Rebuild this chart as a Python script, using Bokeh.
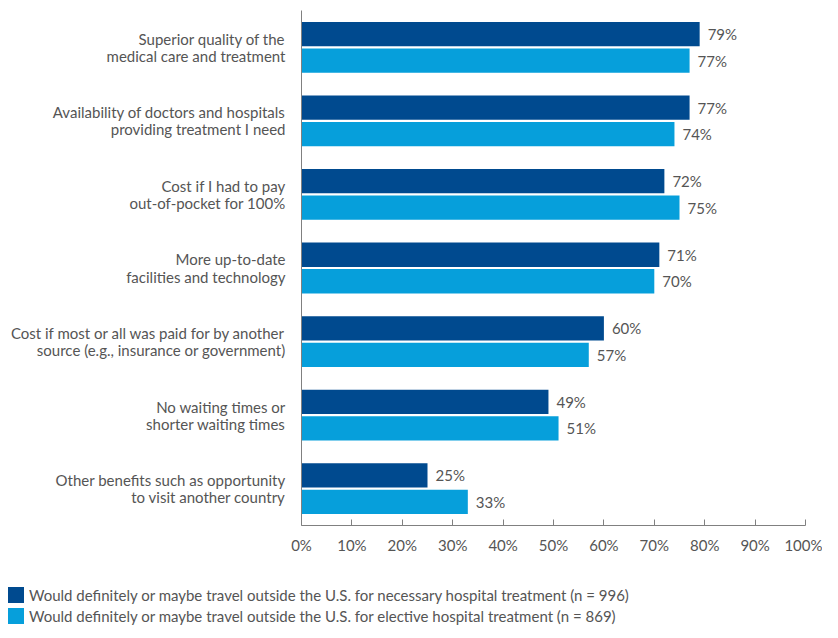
from bokeh.plotting import figure
from bokeh.models import ColumnDataSource, FactorRange, Range1d, FixedTicker, PrintfTickFormatter, Div
from bokeh.layouts import column
from bokeh.transform import dodge
from bokeh.core.properties import value
from bokeh.embed import file_html
from bokeh.resources import INLINE

categories = [
    "Superior quality of the\nmedical care and treatment",
    "Availability of doctors and hospitals\nproviding treatment I need",
    "Cost if I had to pay\nout-of-pocket for 100%",
    "More up-to-date\nfacilities and technology",
    "Cost if most or all was paid for by another\nsource (e.g., insurance or government)",
    "No waiting times or\nshorter waiting times",
    "Other benefits such as opportunity\nto visit another country",
]
necessary = [79, 77, 72, 71, 60, 49, 25]
elective = [77, 74, 75, 70, 57, 51, 33]
series_names = [
    "Would definitely or maybe travel outside the U.S. for necessary hospital treatment (n = 996)",
    "Would definitely or maybe travel outside the U.S. for elective hospital treatment (n = 869)",
]
x_ticks = [0, 10, 20, 30, 40, 50, 60, 70, 80, 90, 100]

DARK = "#004a8f"
LIGHT = "#069fdb"
TXT = "#555555"
FONT = "Lato"
FS = "15px"

src = ColumnDataSource(dict(
    cat=categories,
    nec=necessary,
    ele=elective,
    nec_lbl=[f"{v}%" for v in necessary],
    ele_lbl=[f"{v}%" for v in elective],
))

W = 822
p = figure(width=W, height=570, output_backend="svg", toolbar_location=None,
           y_range=FactorRange(factors=list(reversed(categories)), range_padding=0),
           x_range=Range1d(0, 100))
p.min_border_left = 301
p.min_border_right = 17
p.min_border_top = 10
p.min_border_bottom = 45
p.outline_line_color = None
p.grid.visible = False

p.hbar(y=dodge("cat", 0.18, range=p.y_range), right="nec", left=0, height=0.33,
       source=src, color=DARK, line_color=None)
p.hbar(y=dodge("cat", -0.18, range=p.y_range), right="ele", left=0, height=0.33,
       source=src, color=LIGHT, line_color=None)

p.text(x="nec", y=dodge("cat", 0.18, range=p.y_range), text="nec_lbl", source=src,
       x_offset=8, text_baseline="middle", text_align="left",
       text_font=value(FONT), text_font_size=FS, text_color=TXT)
p.text(x="ele", y=dodge("cat", -0.18, range=p.y_range), text="ele_lbl", source=src,
       x_offset=8, text_baseline="middle", text_align="left",
       text_font=value(FONT), text_font_size=FS, text_color=TXT)

# x axis
xa = p.xaxis[0]
xa.ticker = FixedTicker(ticks=x_ticks)
xa.formatter = PrintfTickFormatter(format="%d%%")
xa.axis_line_color = "#808080"
xa.major_tick_line_color = "#808080"
xa.major_tick_in = 6
xa.major_tick_out = 0
xa.minor_tick_line_color = None
xa.major_label_text_font = FONT
xa.major_label_text_font_size = FS
xa.major_label_text_color = TXT
xa.major_label_standoff = 10

# y axis
ya = p.yaxis[0]
ya.axis_line_color = "#808080"
ya.major_tick_line_color = None
ya.major_tick_in = 0
ya.major_tick_out = 0
ya.minor_tick_line_color = None
ya.major_label_text_font = FONT
ya.major_label_text_font_size = FS
ya.major_label_text_color = TXT
ya.major_label_text_line_height = 0.95
ya.major_label_standoff = 16

# legend as an HTML strip below the chart
def row(color, label, top):
    return (f'<div style="display:flex;align-items:center;height:18px;margin-top:{top}px;">'
            f'<span style="display:inline-block;width:16px;height:16px;background:{color};'
            f'margin-right:5px;flex:none;"></span>'
            f'<span style="white-space:nowrap;">{label}</span></div>')

legend_html = (f'<div style="font-family:{FONT};font-size:{FS};color:{TXT};'
               f'line-height:18px;padding-left:8px;">'
               + row(DARK, series_names[0], 16) + row(LIGHT, series_names[1], 3) + '</div>')
lg = Div(text=legend_html, width=W, height=52, margin=(0, 0, 0, 0))

layout = column(p, lg, spacing=0)
open("out.html", "w").write(file_html(layout, INLINE))
